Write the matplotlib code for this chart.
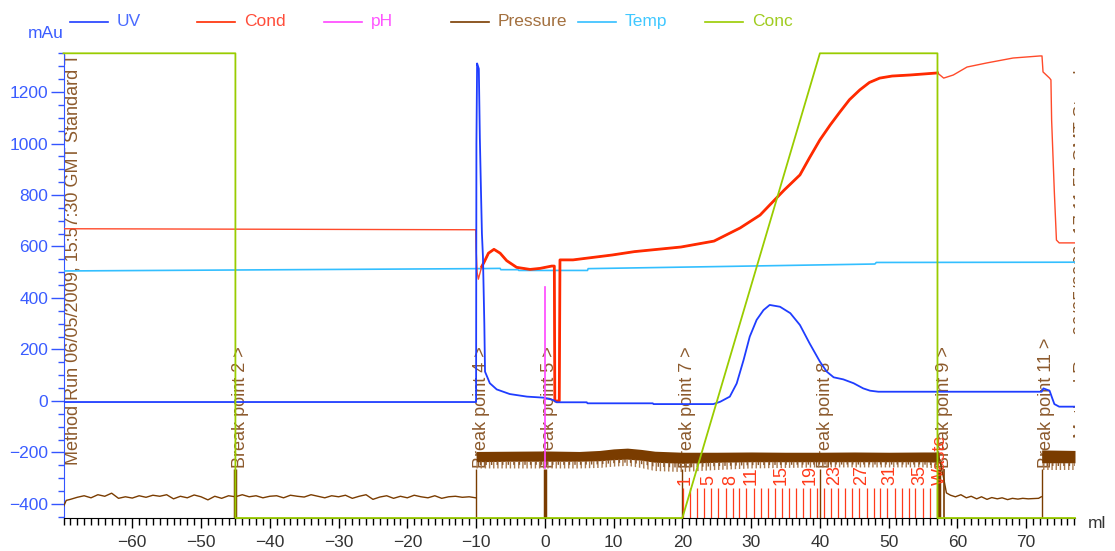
import matplotlib
matplotlib.use("Agg")
import matplotlib.pyplot as plt
from matplotlib.lines import Line2D
from matplotlib.ticker import MultipleLocator

plt.rcParams['font.family'] = ['Liberation Sans', 'DejaVu Sans']
plt.rcParams['font.size'] = 12.5
plt.rcParams['hatch.linewidth'] = 1.0

# ---------------- data (volume in ml) ----------------
uv_ml = [-70.0, -10.0, -9.95, -9.85, -9.6, -9.45, -9.3, -9.15, -9.0, -8.8, -8.7, -8.0, -7.0,
         -5.1, -2.6, -0.2, 1.2, 1.7, 6.1, 6.2, 15.7, 15.8, 24.5, 25.5, 26.9, 27.9, 28.9, 29.8,
         30.8, 31.8, 32.7, 34.2, 35.7, 37.1, 38.5, 40.0, 41.0, 42.0, 43.4, 44.9, 46.3, 47.3,
         48.5, 72.25, 72.5, 73.4, 73.8, 74.1, 74.8, 77.1]
uv = [-4, -4, 1000, 1311, 1290, 1020, 830, 650, 560, 300, 114, 69, 45,
      27, 17, 13, 4, -5, -5, -9, -9, -12, -12, -3, 17, 68, 159, 250,
      315, 353, 373, 366, 341, 295, 224, 153, 114, 92, 84, 69, 49, 40,
      36, 36, 49, 40, 10, -12, -22, -22]

cond_ml = [-70.0, -10.05, -10.0, -9.85, -9.67, -9.18, -8.8, -8.2, -7.4, -6.5, -5.55, -4.1,
           -2.15, -0.7, 1.0, 1.38, 1.45, 2.1, 2.2, 4.1, 9.8, 13.0, 19.8, 24.6, 28.4, 31.3,
           32.7, 34.8, 37.1, 38.5, 40.0, 41.5, 42.9, 44.3, 45.8, 47.2, 48.7, 50.5, 53.1, 57.1,
           58.0, 59.4, 61.4, 64.3, 68.1, 72.0, 72.3, 72.45, 73.4, 73.6, 73.7, 74.1, 74.4,
           74.8, 77.1]
cond = [669, 665, 594, 500, 473, 522, 541, 574, 589, 574, 545, 519,
        511, 515, 524, 524, 0, 0, 548, 548, 567, 580, 598, 621, 672, 722,
        761, 819, 878, 945, 1014, 1072, 1122, 1170, 1208, 1237, 1254, 1262, 1266, 1274,
        1254, 1266, 1297, 1313, 1332, 1340, 1340, 1278, 1254, 1247, 1091, 808, 625,
        614, 614]

temp_ml = [-70.0, -10.0, -6.5, -6.4, -3.9, -3.8, 6.2, 6.3, 25.0, 48.0, 48.2, 77.1]
temp = [505, 514, 515, 510, 510, 507, 507, 514, 522, 532, 538, 539]

ph_ml = [0.0, 0.0]
ph = [-260, 443]

conc_ml = [-70.0, -45.0, -45.0, 20.0, 40.0, 57.1, 57.1, 77.1]
conc = [100, 100, 0, 0, 100, 100, 0, 0]

# pressure while the system is idle (before injection and after elution)
pres_a_ml = [-70, -69.6, -69, -68, -67, -66, -65, -64, -63, -62, -61, -60, -59, -58, -57,
             -56, -55, -54, -53, -52, -51, -50, -49, -48, -47, -46, -45, -44, -43, -42,
             -41, -40, -39, -38, -37, -36, -35, -34, -33, -32, -31, -30, -29, -28, -27,
             -26, -25, -24, -23, -22, -21, -20, -19, -18, -17, -16, -15, -14, -13, -12,
             -11, -10.05]
pres_a = [-410, -386, -382, -374, -368, -376, -364, -370, -358, -378, -372, -377, -368, -374, -366,
          -370, -364, -380, -370, -376, -365, -372, -384, -370, -378, -368, -372, -364, -372, -368,
          -376, -370, -368, -376, -366, -370, -373, -364, -370, -376, -368, -372, -366, -378, -370,
          -364, -382, -373, -368, -378, -370, -376, -366, -372, -376, -368, -378, -372, -370, -374,
          -372, -376]
pres_b_ml = [57.3, 58.0, 58.4, 59, 59.7, 60.5, 61.3, 62, 62.8, 63.5, 64.3, 65, 65.8, 66.5,
             67.3, 68, 68.8, 69.5, 70.3, 71, 71.8, 72.2]
pres_b = [-215, -300, -357, -366, -372, -364, -376, -370, -380, -372, -382, -375, -380, -376,
          -383, -378, -381, -378, -380, -379, -378, -372]

# pressure under flow: upper edge, dense body and downward ripple extent
flow_ml = [-10.0, -5, 0, 5, 8, 10, 12, 14, 16, 20, 25, 30, 35, 40, 45, 50, 55, 57.3]
flow_top = [-196, -195, -194, -196, -192, -186, -183, -188, -195, -199, -199, -198, -199, -199,
            -198, -199, -198, -198]
flow_body = [-236, -234, -234, -234, -232, -228, -226, -230, -238, -242, -238, -236, -236, -236,
             -236, -236, -236, -238]
flow_low = [-262, -262, -262, -262, -260, -255, -252, -260, -272, -276, -268, -262, -260, -258,
            -258, -258, -258, -262]
flow2_ml = [72.25, 77.1]
flow2_top = [-190, -192]
flow2_body = [-240, -240]
flow2_low = [-268, -268]

# run events
event_ml = [-45.0, -10.0, 0.0, 20.0, 40.0, 57.3, 72.25]
event_text = ["Break point 2 >", "Break point 4 >", "Break point 5 >", "Break point 7 >",
              "Break point 8", "Break point 9 >", "Break point 11 >"]
event_lw = [2.5, 1.0, 2.5, 1.0, 1.0, 2.5, 1.0]
extra_event_ml = [58.05]

# fractions
frac_ml = [20.1, 21.1, 22.2, 23.2, 24.2, 25.2, 26.3, 27.3, 28.3, 29.3, 30.4, 31.4, 32.4, 33.4,
           34.5, 35.5, 36.5, 37.5, 38.6, 39.6, 40.6, 41.6, 42.7, 43.7, 44.7, 45.7, 46.8, 47.8,
           48.8, 49.8, 50.9, 51.9, 52.9, 53.9, 55.0, 56.0, 57.0]
frac_label_ml = [20.4, 23.9, 27.1, 30.0, 34.4, 38.6, 42.2, 46.1, 50.2, 54.5]
frac_labels = ["1", "5", "8", "11", "15", "19", "23", "27", "31", "35"]

x_ticks = list(range(-60, 71, 10))
y_ticks = list(range(-400, 1201, 200))

# ---------------- styling ----------------
UV_C, COND_C, PH_C = '#1f3dff', '#ff2a00', '#ff44ff'
PRES_C, TEMP_C, CONC_C = '#7a3c00', '#33bfff', '#99cc00'
EVT_TXT = '#8c5a2d'
ROT_FS = 13

W, H = 1115, 551
fig = plt.figure(figsize=(W / 100, H / 100), dpi=100)
ax = fig.add_axes([63.5 / W, 1 - 518 / H, (1075 - 63.5) / W, (518 - 53.3) / H])
ax.set_xlim(-70, 77.1)
ax.set_ylim(-454.4, 1350.3)

for s in ('top', 'right'):
    ax.spines[s].set_visible(False)
ax.spines['left'].set_color('#3355ff')
ax.spines['bottom'].set_color('black')

ax.set_xticks(x_ticks)
ax.set_yticks(y_ticks)
ax.xaxis.set_minor_locator(MultipleLocator(1))
ax.yaxis.set_minor_locator(MultipleLocator(50))
ax.tick_params(axis='x', which='major', direction='out', length=7.5, width=1, color='black',
               labelcolor='#333333', labelsize=12.5, pad=5)
ax.tick_params(axis='x', which='minor', direction='out', length=4.8, width=1, color='black')
ax.tick_params(axis='y', which='major', direction='out', length=9.5, width=1, color='#3355ff',
               labelcolor='#3a5cff', labelsize=12.5, pad=1.5)
ax.tick_params(axis='y', which='minor', direction='out', length=4.5, width=1, color='#3355ff')

# run log text, cut off at the plot edges
ax.text(-68.6, -249, "Method Run 06/05/2009, 15:57:30 GMT Standard Time", rotation=90,
        ha='center', va='bottom', color=EVT_TXT, fontsize=13, zorder=1, clip_on=True)
ax.text(76.95, -144, "Method Run 06/05/2009, 17:11:57 GMT Standard", rotation=90,
        ha='left', va='bottom', color=EVT_TXT, fontsize=ROT_FS, zorder=1, clip_on=True)

for xm, label, lw in zip(event_ml, event_text, event_lw):
    ax.text(xm + 0.75, -262, label, rotation=90, ha='center', va='bottom',
            color=EVT_TXT, fontsize=ROT_FS, zorder=1)
    ax.plot([xm, xm], [-265, -454.4], color=PRES_C, lw=lw, zorder=2, solid_capstyle='butt')
for xm in extra_event_ml:
    ax.plot([xm, xm], [-265, -454.4], color=PRES_C, lw=1.2, zorder=2, solid_capstyle='butt')

# fraction marks
for xf in frac_ml:
    ax.plot([xf, xf], [-336, -454.4], color='#ff3a1a', lw=0.9, zorder=2, solid_capstyle='butt')
for xf, lab in zip(frac_label_ml, frac_labels):
    ax.text(xf, -328, lab, rotation=90, ha='center', va='bottom', color='#ff3a1a',
            fontsize=ROT_FS, zorder=2)
ax.text(57.6, -326, "Waste", rotation=90, ha='center', va='bottom', color='#ff3a1a',
        fontsize=ROT_FS, zorder=2)

# pressure
ax.plot(pres_a_ml, pres_a, color=PRES_C, lw=1.0, zorder=3)
ax.plot(pres_b_ml, pres_b, color=PRES_C, lw=1.0, zorder=3)
for mls, top, body, low in ((flow_ml, flow_top, flow_body, flow_low),
                            (flow2_ml, flow2_top, flow2_body, flow2_low)):
    ax.fill_between(mls, body, top, color=PRES_C, lw=0, zorder=3)
    ax.fill_between(mls, low, body, facecolor='none', edgecolor='#a8784a', hatch='||||',
                    lw=0, zorder=3)
    ax.fill_between(mls, [(b + l) / 2 for b, l in zip(body, low)], body, facecolor='none',
                    edgecolor='#8a5528', hatch='|||', lw=0, zorder=3)

# temperature, conductivity, UV, pH
ax.plot(temp_ml, temp, color=TEMP_C, lw=1.2, zorder=4)
ax.plot(cond_ml, cond, color='#ff4a2a', lw=1.0, zorder=5)
noisy = [(m, c) for m, c in zip(cond_ml, cond) if -9.3 <= m <= 57.2]
ax.plot([p[0] for p in noisy], [p[1] for p in noisy], color=COND_C, lw=2.0, zorder=5)
ax.plot(uv_ml, uv, color=UV_C, lw=1.3, zorder=6)
ax.plot(ph_ml, ph, color=PH_C, lw=1.2, zorder=6)

# concentration on its own 0-100 % scale
ax2 = ax.twinx()
ax2.set_ylim(0, 100)
ax2.set_xlim(ax.get_xlim())
ax2.axis('off')
ax2.plot(conc_ml, conc, color=CONC_C, lw=1.3, clip_on=False, zorder=7)

# axis unit labels
fig.text(45.5 / W, 1 - 34 / H, "mAu", color='#3a5cff', ha='center', va='center', fontsize=12.5)
fig.text(1097 / W, 1 - 523 / H, "ml", color='#333333', ha='center', va='center', fontsize=12.5)

# legend row
legend = [("UV", UV_C, '#4a6bff'), ("Cond", COND_C, '#ff4d3a'), ("pH", PH_C, '#ff55ff'),
          ("Pressure", PRES_C, '#a3703f'), ("Temp", TEMP_C, '#40c8ff'), ("Conc", CONC_C, '#a0cc20')]
for i, (name, lc, tc) in enumerate(legend):
    x0 = 70 + 127 * i
    fig.add_artist(Line2D([x0 / W, (x0 + 38) / W], [1 - 21.5 / H, 1 - 21.5 / H],
                          color=lc, lw=1.2, transform=fig.transFigure))
    fig.text((x0 + 47) / W, 1 - 21.5 / H, name, color=tc, ha='left', va='center', fontsize=12.5)

fig.savefig("out.png", dpi=100)
